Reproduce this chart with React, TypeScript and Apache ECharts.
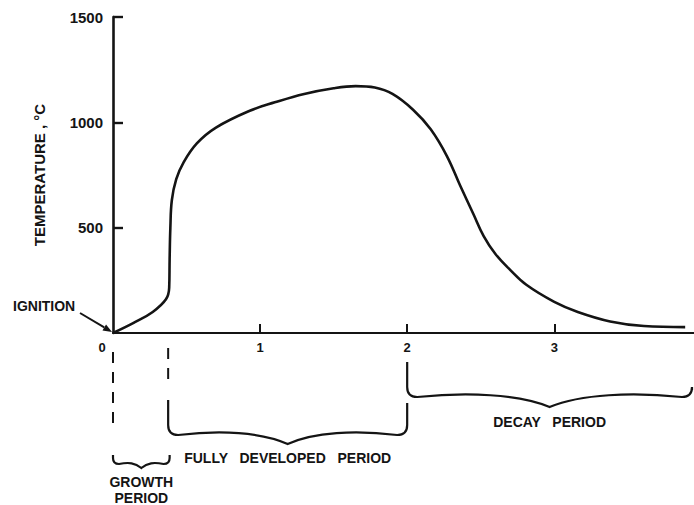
import React, { useEffect, useRef } from 'react';
import * as echarts from 'echarts';

// ---- data ----
const timeHours = [0, 0.14, 0.27, 0.36, 0.382, 0.385, 0.39, 0.40, 0.43, 0.48, 0.57, 0.70, 0.93, 1.10, 1.30, 1.50, 1.65, 1.78, 1.90, 2.04, 2.16, 2.27, 2.36, 2.45, 2.52, 2.60, 2.70, 2.81, 3.00, 3.16, 3.38, 3.61, 3.89];
const temperatureC = [0, 48, 100, 160, 215, 350, 500, 630, 730, 810, 900, 975, 1055, 1095, 1135, 1162, 1172, 1165, 1135, 1060, 967, 840, 700, 565, 460, 375, 300, 229, 148, 100, 55, 33, 28];

const xTickValues = [1, 2, 3];
const xLabelValues = [0, 1, 2, 3];
const yTickValues = [500, 1000, 1500];

const periodNames = ['GROWTH\nPERIOD', 'FULLY DEVELOPED PERIOD', 'DECAY PERIOD'];
const periodStart = [0, 0.375, 2];
const periodEnd = [0.385, 2, 3.95];

const ignitionLabel = 'IGNITION';
const ignitionPoint = [0, 0];
const yAxisTitle = 'TEMPERATURE , °C';

// ---- layout (pixel offsets below the x axis) ----
const braceLayout = [
  { topL: 122, topR: 122, h: 131, tip: 4, r: 6, wave: 2, textY: 141, valign: 'top', inset: 0, dash: { from: 19, to: 90 } },
  { topL: 67, topR: 70, h: 102, tip: 9, r: 10, wave: 5, textY: 125, valign: 'middle', inset: 0, dash: { from: 15, to: 47 } },
  { topL: 29, topR: 57, h: 64, tip: 10, r: 10, wave: 5, textY: 89, valign: 'middle', inset: 2, dash: null },
];

const INK = '#141414';
const FONT = '"Liberation Sans", Arial, sans-serif';

function bracePath(x1: number, x2: number, yTopL: number, yTopR: number, yh: number, tip: number, r: number, wave: number) {
  const xm = (x1 + x2) / 2;
  const a = xm - x1;
  const b = x2 - xm;
  return [
    `M${x1},${yTopL}`,
    `L${x1},${yh - r}`,
    `Q${x1},${yh} ${x1 + r},${yh}`,
    `C${x1 + r + a * 0.35},${yh - wave} ${xm - a * 0.22},${yh - wave * 0.6} ${xm},${yh + tip}`,
    `C${xm + b * 0.22},${yh - wave * 0.6} ${x2 - r - b * 0.35},${yh - wave} ${x2 - r},${yh}`,
    `Q${x2},${yh} ${x2},${yh - r}`,
    `L${x2},${yTopR}`,
  ].join(' ');
}

export default function App() {
  const ref = useRef<HTMLDivElement>(null);

  useEffect(() => {
    const chart = echarts.init(ref.current!, null, { renderer: 'svg' });

    const lineData = timeHours.map((t, i) => [t, temperatureC[i]]);
    const periodData = periodStart.map((s, i) => [s, periodEnd[i], i]);

    chart.setOption({
      animation: false,
      backgroundColor: '#ffffff',
      grid: { left: 113, right: 0, top: 17, bottom: 172 },
      xAxis: {
        type: 'value',
        min: 0,
        max: 3.95,
        interval: 1,
        splitLine: { show: false },
        axisLine: { show: true, onZero: false, lineStyle: { color: INK, width: 2.2 } },
        axisTick: { show: true, inside: true, length: 9, customValues: xTickValues, lineStyle: { color: INK, width: 2 } },
        axisLabel: {
          show: true,
          customValues: xLabelValues,
          margin: 8,
          color: INK,
          fontFamily: FONT,
          fontWeight: 'bold',
          fontSize: 13,
          formatter: (v: number) => (v === 0 ? '{z|0}' : String(v)),
          rich: {
            z: { padding: [0, 22, 0, 0], color: INK, fontFamily: FONT, fontWeight: 'bold', fontSize: 13 },
          },
        },
      },
      yAxis: {
        type: 'value',
        min: 0,
        max: 1500,
        interval: 500,
        splitLine: { show: false },
        axisLine: { show: true, lineStyle: { color: INK, width: 2.6 } },
        axisTick: { show: true, inside: true, length: 10, customValues: yTickValues, lineStyle: { color: INK, width: 2.4 } },
        axisLabel: {
          show: true,
          customValues: yTickValues,
          margin: 10,
          color: INK,
          fontFamily: FONT,
          fontWeight: 'bold',
          fontSize: 15,
          formatter: (v: number) => String(v),
        },
        name: yAxisTitle,
        nameLocation: 'middle',
        nameRotate: 90,
        nameGap: 66,
        nameTextStyle: { color: INK, fontFamily: FONT, fontWeight: 'bold', fontSize: 15 },
      },
      series: [
        {
          type: 'line',
          data: lineData,
          showSymbol: false,
          smooth: 0.4,
          lineStyle: { color: INK, width: 2.6 },
          z: 3,
        },
        {
          type: 'custom',
          data: periodData,
          silent: true,
          clip: false,
          z: 4,
          renderItem: (params: any, api: any) => {
            const i = params.dataIndex;
            const L = braceLayout[i];
            const x1 = api.coord([api.value(0), 0])[0];
            const x2 = api.coord([api.value(1), 0])[0] - L.inset;
            const y0 = api.coord([0, 0])[1];
            const xm = (x1 + x2) / 2;
            const children: any[] = [
              {
                type: 'path',
                shape: { pathData: bracePath(x1, x2, y0 + L.topL, y0 + L.topR, y0 + L.h, L.tip, L.r, L.wave) },
                style: { stroke: INK, fill: 'none', lineWidth: 2.2 },
              },
              {
                type: 'text',
                x: xm,
                y: y0 + L.textY,
                style: {
                  text: periodNames[i].replace(/ /g, '   '),
                  fill: INK,
                  font: `bold 14px ${FONT}`,
                  align: 'center',
                  verticalAlign: L.valign,
                  lineHeight: 16,
                },
              },
            ];
            if (L.dash) {
              children.push({
                type: 'line',
                shape: { x1, y1: y0 + L.dash.from, x2: x1, y2: y0 + L.dash.to },
                style: { stroke: INK, lineWidth: 2, lineDash: [11, 9] },
              });
            }
            return { type: 'group', children };
          },
        },
      ],
    });

    const o = chart.convertToPixel({ gridIndex: 0 }, ignitionPoint) as number[];
    const sx = o[0] - 33;
    const sy = o[1] - 20;
    const tx = o[0] - 1;
    const ty = o[1] - 1;
    const len = Math.hypot(tx - sx, ty - sy);
    const ux = (tx - sx) / len;
    const uy = (ty - sy) / len;
    const bx = tx - ux * 9;
    const by = ty - uy * 9;
    const px = -uy * 3.5;
    const py = ux * 3.5;

    chart.setOption({
      graphic: [
        {
          type: 'line',
          shape: { x1: sx, y1: sy, x2: bx, y2: by },
          style: { stroke: INK, lineWidth: 2 },
          silent: true,
        },
        {
          type: 'polygon',
          shape: { points: [[tx, ty], [bx + px, by + py], [bx - px, by - py]] },
          style: { fill: INK },
          silent: true,
        },
        {
          type: 'text',
          x: o[0] - 100,
          y: o[1] - 27,
          style: { text: ignitionLabel, fill: INK, font: `bold 14px ${FONT}`, align: 'left', verticalAlign: 'middle' },
          silent: true,
        },
      ],
    });

    return () => chart.dispose();
  }, []);

  return <div ref={ref} style={{ position: 'absolute', left: 0, top: 0, width: 694, height: 505 }} />;
}
